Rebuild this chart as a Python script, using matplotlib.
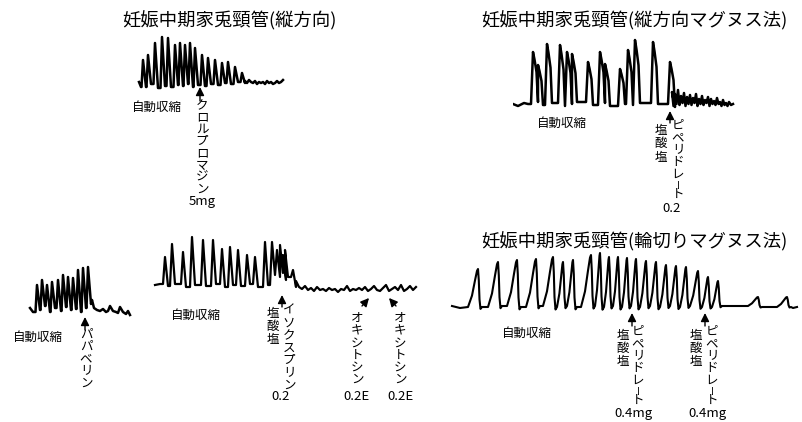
import matplotlib.pyplot as plt

plt.rcParams['font.family'] = ['Noto Sans CJK JP', 'DejaVu Sans']

W, H = 802, 422

# ---- trace 1: 縦方向 (クロルプロマジン) ----
head1_t = [2, 4]
head1_a = [8, 3]
peak1_t = [6, 11, 18, 25, 31, 38, 43, 48, 53, 58, 65, 71, 78, 85, 91, 98, 105]
peak1_a = [30, 35, 47, 53, 52, 45, 47, 45, 47, 42, 35, 32, 30, 27, 28, 23, 17]
trough1_a = [3, 6, 2, 4, 3, 5, 4, 6, 3, 5, 4, 6, 5, 7, 6, 8, 7]
tail1_t = [108, 110, 112, 114, 116, 118, 120, 122, 124, 126, 128, 130, 132, 134, 136, 138, 140, 142, 144, 146]
tail1_a = [9, 7, 10, 8, 7, 9, 6, 8, 7, 8, 6, 9, 7, 8, 6, 7, 9, 7, 8, 10]

# ---- trace 2: 縦方向マグヌス法 (ピペリドレート) ----
head2_t = [0, 5, 11, 15]
head2_a = [8, 6, 9, 8]
peak2_t = [20, 25, 34, 47, 54, 59, 75, 87, 92, 107, 115, 122, 140, 157]
peak2_a = [60, 47, 68, 67, 60, 58, 50, 60, 48, 43, 62, 72, 70, 50]
trough2_a = [10, 7, 9, 6, 8, 10, 7, 9, 6, 8, 7, 9, 8, 5]
tail2_t = [159, 160.5, 162, 163.5, 165, 166.5, 168, 169.5, 171, 172.5, 174, 175.5, 177, 178.5,
           180, 181.5, 183, 184.5, 186, 187.5, 189, 190.5, 192, 193.5, 195, 196.5, 198, 199.5,
           201, 202.5, 204, 205.5, 207, 208.5, 210, 211.5, 213, 214.5, 216, 218, 220]
tail2_a = [20, 6, 18, 8, 22, 7, 16, 9, 19, 6, 15, 8, 17, 7, 14, 9, 18, 6, 13, 8, 16,
           7, 12, 9, 15, 6, 13, 8, 11, 7, 14, 8, 10, 6, 12, 7, 9, 6, 10, 7, 8]

# ---- trace 3: パパベリン ----
head3_t = [2, 5]
head3_a = [12, 8]
peak3_t = [9, 14, 19, 24, 30, 35, 40, 45, 50, 55, 60]
peak3_a = [35, 40, 35, 38, 40, 45, 43, 42, 50, 52, 53]
trough3_a = [10, 14, 8, 12, 9, 13, 10, 11, 8, 12, 16]
tail3_t = [64, 66, 69, 72, 75, 78, 80, 82, 85, 88, 90, 92, 95, 98, 100, 102]
tail3_a = [20, 12, 10, 9, 11, 8, 9, 14, 9, 8, 7, 13, 8, 6, 9, 5]

# ---- trace 4: イソクスプリン / オキシトシン ----
head4_t = [2, 7]
head4_a = [10, 11]
peak4_t = [12, 19, 30, 39, 50, 60, 69, 77, 85, 94, 102, 112, 119, 124, 127, 130, 132, 140]
peak4_a = [38, 51, 43, 58, 55, 55, 46, 48, 45, 40, 38, 53, 53, 45, 50, 40, 45, 25]
trough4_a = [9, 11, 8, 10, 9, 11, 8, 10, 9, 11, 8, 10, 20, 18, 22, 15, 18, 8]
tail4_t = [143, 146, 149, 152, 155, 158, 161, 164, 167, 170, 173, 176, 179, 182, 185, 188, 191,
           194, 197, 200, 203, 206, 209, 212, 215, 218, 221, 224, 227, 230, 233, 236, 239, 242,
           245, 248, 251, 254, 257, 260, 263]
tail4_a = [14, 8, 6, 9, 5, 7, 4, 8, 5, 6, 4, 7, 5, 6, 3, 6, 5, 9, 4, 6, 5,
           7, 5, 8, 4, 6, 9, 5, 4, 7, 10, 4, 6, 8, 5, 10, 4, 6, 9, 5, 8]

# ---- trace 5: 輪切りマグヌス法 ----
head5_t = [2, 10, 18]
head5_a = [6, 4, 5]
peak5_t = [28, 48, 67, 86, 103, 113, 123, 141, 150, 159, 168, 177, 186, 196, 206, 216,
           226, 236, 248, 258, 268, 308, 337]
peak5_a = [43, 50, 52, 53, 55, 50, 52, 57, 59, 55, 55, 54, 53, 51, 50, 47, 46, 45, 41, 35, 31, 15, 15]
trough5_a = [5, 6, 5, 6, 5, 6, 5, 6, 5, 6, 5, 6, 5, 6, 5, 6, 5, 6, 5, 5, 6, 5, 5]
tail5_t = [343, 347]
tail5_a = [4, 5]


def build(head_t, head_a, pk_t, pk_a, lo_a, tail_t, tail_a, rise, fall):
    xs, ys = list(head_t), list(head_a)
    span = -rise[0][0]
    for t, a, lo in zip(pk_t, pk_a, lo_a):
        base = ys[-1]
        s = min(1.0, (t - xs[-1]) / span)
        for dt, f in rise:
            xs.append(t + dt * s)
            ys.append(base + f * (a - base))
        for dt, f in fall:
            xs.append(t + dt)
            ys.append(lo + f * (a - lo))
    return xs + list(tail_t), ys + list(tail_a)


fig = plt.figure(figsize=(W / 100, H / 100), dpi=100)
over = fig.add_axes([0, 0, 1, 1])
over.set_xlim(0, W)
over.set_ylim(H, 0)
over.axis('off')


def trace_axes(x0, y0, x1, y1):
    ax = fig.add_axes([x0 / W, 1 - y1 / H, (x1 - x0) / W, (y1 - y0) / H])
    ax.set_xlim(0, x1 - x0)
    ax.set_ylim(0, y1 - y0)
    ax.axis('off')
    return ax


spike_rise = [(-1.5, 0), (0, 1)]
spike_fall = [(3, 0)]
plateau_rise = [(-2, 0), (0, 1)]
plateau_fall = [(1.5, 0.85), (3.5, 0.6), (5, 0)]
ring_rise = [(-10, 0), (-6, 0.3), (-3, 0.7), (-1, 0.95), (0, 1)]
ring_fall = [(0.8, 0.7), (1.5, 0.2), (2.5, -0.05), (4, 0)]

ax = trace_axes(137, 33, 285, 90)
ax.plot(*build(head1_t, head1_a, peak1_t, peak1_a, trough1_a, tail1_t, tail1_a,
               spike_rise, spike_fall), color='black', lw=1.8)

ax = trace_axes(513, 35, 735, 112)
ax.plot(*build(head2_t, head2_a, peak2_t, peak2_a, trough2_a, tail2_t, tail2_a,
               plateau_rise, plateau_fall), color='black', lw=1.8)

ax = trace_axes(28, 262, 132, 320)
ax.plot(*build(head3_t, head3_a, peak3_t, peak3_a, trough3_a, tail3_t, tail3_a,
               spike_rise, spike_fall), color='black', lw=1.8)

ax = trace_axes(153, 235, 418, 295)
ax.plot(*build(head4_t, head4_a, peak4_t, peak4_a, trough4_a, tail4_t, tail4_a,
               [(-2, 0), (0, 1)], [(3, 0)]), color='black', lw=1.6)

ax = trace_axes(450, 250, 800, 312)
ax.plot(*build(head5_t, head5_a, peak5_t, peak5_a, trough5_a, tail5_t, tail5_a,
               ring_rise, ring_fall), color='black', lw=1.5)


def vtext(x, y, s, step=11.3, size=9):
    # vertical writing: runs of characters as one multi-line text,
    # the long-vowel mark turned upright
    i = 0
    while i < len(s):
        if s[i] == 'ー':
            over.text(x, y + i * step - 1, 'ー', ha='center', va='center',
                      fontsize=size * 0.8, rotation=90)
            i += 1
            continue
        j = i
        while j < len(s) and s[j] != 'ー':
            j += 1
        yc = y + (i + j - 1) / 2 * step
        over.text(x, yc, '\n'.join(s[i:j]), ha='center', va='center',
                  fontsize=size, linespacing=step / 12.3, multialignment='center')
        i = j


def arrow(x, tip, tail, x2=None):
    over.annotate('', xy=(x, tip), xytext=(x if x2 is None else x2, tail),
                  arrowprops=dict(arrowstyle='-|>,head_length=0.5,head_width=0.25',
                                  color='black', lw=1.0, shrinkA=0, shrinkB=0))


title_size = 13.2
over.text(229, 21, '妊娠中期家兎頸管(縦方向)', ha='center', va='center', fontsize=title_size)
over.text(634, 21, '妊娠中期家兎頸管(縦方向マグヌス法)', ha='center', va='center', fontsize=title_size)
over.text(634, 242, '妊娠中期家兎頸管(輪切りマグヌス法)', ha='center', va='center', fontsize=title_size)

for x, y in [(157, 107), (562, 123), (38, 337), (196, 315), (527, 333)]:
    over.text(x, y, '自動収縮', ha='center', va='center', fontsize=9)

# panel 1
arrow(200, 87, 101)
vtext(202, 109, 'クロルプロマジン', step=11)
over.text(202, 201, '5mg', ha='center', va='center', fontsize=9.5)

# panel 2
arrow(670, 111, 123)
vtext(661, 131, '塩酸塩', step=12.7)
vtext(678, 127, 'ピペリドレート', step=11.3)
over.text(672, 209, '0.2', ha='center', va='center', fontsize=9.5)

# panel 3
arrow(85, 317, 330)
vtext(86, 336, 'パパベリン', step=11.25)

# panel 4
arrow(282, 295, 307)
vtext(273, 314, '塩酸塩', step=12.3)
vtext(289, 313, 'イソクスプリン', step=11.7)
over.text(281, 396, '0.2', ha='center', va='center', fontsize=9.5)
arrow(369, 298, 306, x2=362)
vtext(357, 321, 'オキシトシン', step=11.2)
over.text(357, 397, '0.2E', ha='center', va='center', fontsize=9.5)
arrow(389, 298, 306, x2=396)
vtext(400, 321, 'オキシトシン', step=11.2)
over.text(401, 397, '0.2E', ha='center', va='center', fontsize=9.5)

# panel 5
for xa, xs_, xp, xm in [(632, 623, 638, 633), (705, 696, 712, 707)]:
    arrow(xa, 313, 326)
    vtext(xs_, 336, '塩酸塩', step=12.3)
    vtext(xp, 333, 'ピペリドレート', step=11.3)
    over.text(xm, 413, '0.4mg', ha='center', va='center', fontsize=9.5)

fig.savefig('out.png', dpi=100, facecolor='white')
